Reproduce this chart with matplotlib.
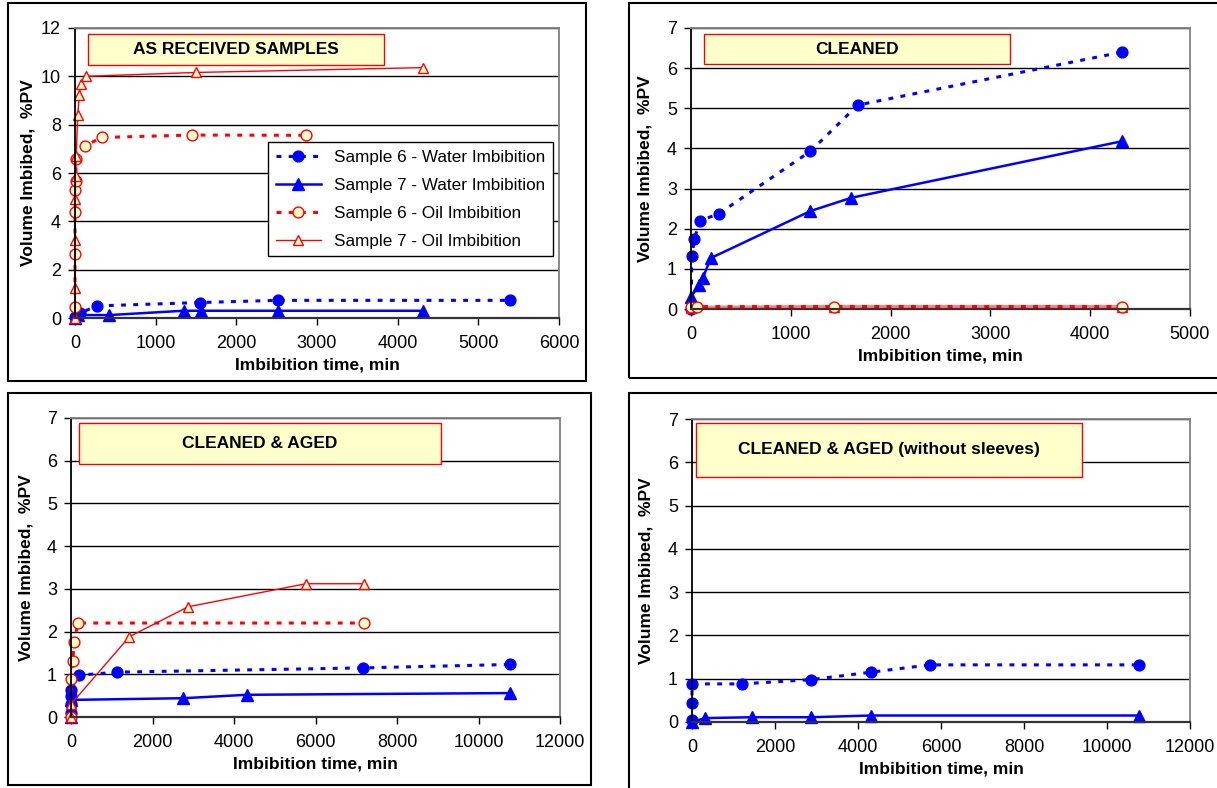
import matplotlib

matplotlib.use("Agg")
import matplotlib.pyplot as plt
from matplotlib.patches import Rectangle
from matplotlib.lines import Line2D

plt.rcParams["font.family"] = ["Liberation Sans", "DejaVu Sans"]

W, H = 1217, 788

# ---- as received samples ----
p1_s6w_x = [0, 62, 269, 1553, 2513, 5397]
p1_s6w_y = [0.04, 0.2, 0.5, 0.64, 0.73, 0.73]
p1_s7w_x = [0, 35, 418, 1349, 1558, 2513, 4313]
p1_s7w_y = [0.0, 0.12, 0.12, 0.3, 0.3, 0.3, 0.3]
p1_s6o_x = [0, 0, 0, 5, 8, 15, 124, 331, 1446, 2865]
p1_s6o_y = [0.47, 2.65, 4.4, 5.3, 5.68, 6.57, 7.13, 7.47, 7.57, 7.56]
p1_s7o_x = [0, 0, 0, 5, 8, 16, 33, 54, 70, 136, 1496, 4313]
p1_s7o_y = [0.0, 1.25, 3.23, 4.92, 5.89, 6.7, 8.4, 9.23, 9.68, 10.0, 10.16, 10.36]

# ---- cleaned ----
p2_s6w_x = [0, 10, 33, 90, 277, 1197, 1671, 4320]
p2_s6w_y = [0.0, 1.32, 1.74, 2.2, 2.37, 3.93, 5.08, 6.4]
p2_s7w_x = [0, 83, 116, 200, 1197, 1605, 4320]
p2_s7w_y = [0.3, 0.6, 0.76, 1.27, 2.44, 2.77, 4.18]
p2_s6o_x = [0, 62, 1437, 4320]
p2_s6o_y = [0.04, 0.06, 0.06, 0.06]
p2_s7o_x = [0, 1437, 4320]
p2_s7o_y = [0.03, 0.05, 0.05]

# ---- cleaned & aged ----
p3_s6w_x = [0, 0, 0, 0, 206, 1136, 7177, 10780]
p3_s6w_y = [0.1, 0.3, 0.48, 0.64, 0.98, 1.05, 1.15, 1.23]
p3_s7w_x = [0, 0, 2757, 4313, 10780]
p3_s7w_y = [0.0, 0.4, 0.44, 0.52, 0.56]
p3_s6o_x = [0, 0, 41, 82, 165, 7197]
p3_s6o_y = [0.0, 0.88, 1.32, 1.76, 2.2, 2.2]
p3_s7o_x = [0, 10, 1432, 2873, 5765, 7197]
p3_s7o_y = [0.0, 0.31, 1.88, 2.58, 3.12, 3.12]

# ---- cleaned & aged, no sleeves ----
p4_s6w_x = [0, 0, 0, 1202, 2873, 4310, 5728, 10780]
p4_s6w_y = [0.05, 0.45, 0.88, 0.88, 0.98, 1.15, 1.32, 1.32]
p4_s7w_x = [0, 310, 1437, 2873, 4310, 10780]
p4_s7w_y = [0.0, 0.09, 0.11, 0.11, 0.15, 0.15]

labels = [
    "Sample 6 - Water Imbibition",
    "Sample 7 - Water Imbibition",
    "Sample 6 - Oil Imbibition",
    "Sample 7 - Oil Imbibition",
]

BLUE = "#0000ff"
RED = "#ff0000"
PALE = "#ffffcc"
DOT = (0, (1.6, 2.4))

STYLES = {
    "s6w": dict(color=BLUE, lw=2.2, ls=DOT, marker="o", ms=7.8, mfc=BLUE, mec=BLUE),
    "s7w": dict(color=BLUE, lw=1.8, ls="-", marker="^", ms=8.2, mfc=BLUE, mec=BLUE),
    "s6o": dict(color=RED, lw=2.2, ls=DOT, marker="o", ms=7.8, mfc=PALE, mec=RED, mew=1),
    "s7o": dict(color=RED, lw=1.0, ls="-", marker="^", ms=7.8, mfc=PALE, mec=RED, mew=1),
}


def fig_rect(x0, y0, x1, y1):
    """pixel box (top-left origin) -> figure fraction [l, b, w, h]"""
    return [x0 / W, 1 - y1 / H, (x1 - x0) / W, (y1 - y0) / H]


def frame(fig, x0, y0, x1, y1):
    l, b, w, h = fig_rect(x0, y0, x1, y1)
    fig.patches.append(Rectangle((l, b), w, h, transform=fig.transFigure,
                                 fill=False, ec="black", lw=1.5))


def title_box(fig, x0, y0, x1, y1, text):
    l, b, w, h = fig_rect(x0, y0, x1, y1)
    fig.patches.append(Rectangle((l, b), w, h, transform=fig.transFigure,
                                 fc=PALE, ec=RED, lw=1, zorder=5))
    fig.text(l + w / 2, b + h / 2, text, ha="center", va="center",
             fontsize=12.5, fontweight="bold", zorder=6)


def setup(ax, xmax, xstep, ymax, ystep, ypad=4):
    ax.set_xlim(0, xmax)
    ax.set_ylim(0, ymax)
    ax.set_xticks(range(0, xmax + 1, xstep))
    ax.set_yticks(range(0, ymax + 1, ystep))
    ax.set_axisbelow(True)
    ax.yaxis.grid(True, color="black", lw=1)
    for side in ("top", "right"):
        ax.spines[side].set_color("#808080")
        ax.spines[side].set_linewidth(1.3)
    ax.spines["left"].set_linewidth(1.3)
    ax.spines["bottom"].set_linewidth(1.6)
    ax.spines["bottom"].set_color("#333333")
    ax.tick_params(direction="out", length=5, width=1, labelsize=13, pad=5)
    ax.tick_params(axis="x", pad=7)
    ax.set_xlabel("Imbibition time, min", fontsize=12.5, fontweight="bold", labelpad=4)
    ax.set_ylabel("Volume Imbibed,  %PV", fontsize=12.5, fontweight="bold", labelpad=ypad)


def series(ax, x, y, key, **extra):
    st = dict(STYLES[key])
    st.update(extra)
    ax.plot(x, y, clip_on=False, **st)


fig = plt.figure(figsize=(W / 100, H / 100), dpi=100)

frame(fig, 8, 3, 586, 381)
frame(fig, 629, 3, 1220, 378)
frame(fig, 8, 393, 591, 785)
frame(fig, 629, 393, 1220, 792)

ax1 = fig.add_axes(fig_rect(75, 28, 559, 318))
setup(ax1, 6000, 1000, 12, 2)
series(ax1, p1_s6w_x, p1_s6w_y, "s6w")
series(ax1, p1_s7w_x, p1_s7w_y, "s7w")
series(ax1, p1_s6o_x, p1_s6o_y, "s6o")
series(ax1, p1_s7o_x, p1_s7o_y, "s7o")
handles = [Line2D([], [], **STYLES[k]) for k in ("s6w", "s7w", "s6o", "s7o")]
leg = ax1.legend(handles, labels, loc="upper right", bbox_to_anchor=(0.988, 0.607),
                 borderaxespad=0, fontsize=12.3, frameon=True, fancybox=False,
                 edgecolor="black", framealpha=1, handlelength=2.6,
                 labelspacing=0.76, borderpad=0.45, numpoints=1)
leg.get_frame().set_linewidth(1)
title_box(fig, 88, 34, 384, 65, "AS RECEIVED SAMPLES")

ax2 = fig.add_axes(fig_rect(691, 28, 1190, 309))
setup(ax2, 5000, 1000, 7, 1, ypad=10.5)
series(ax2, p2_s6w_x, p2_s6w_y, "s6w")
series(ax2, p2_s7w_x, p2_s7w_y, "s7w")
series(ax2, p2_s7o_x, p2_s7o_y, "s7o", color="#ff8080", lw=3)
series(ax2, p2_s6o_x, p2_s6o_y, "s6o")
title_box(fig, 704, 34, 1010, 64, "CLEANED")

ax3 = fig.add_axes(fig_rect(71, 418, 560, 717))
setup(ax3, 12000, 2000, 7, 1, ypad=10)
series(ax3, p3_s6w_x, p3_s6w_y, "s6w")
series(ax3, p3_s7w_x, p3_s7w_y, "s7w")
series(ax3, p3_s6o_x, p3_s6o_y, "s6o")
series(ax3, p3_s7o_x, p3_s7o_y, "s7o")
title_box(fig, 79, 423, 441, 464, "CLEANED & AGED")

ax4 = fig.add_axes(fig_rect(692, 419, 1190, 722))
setup(ax4, 12000, 2000, 7, 1, ypad=10.5)
series(ax4, p4_s6w_x, p4_s6w_y, "s6w")
series(ax4, p4_s7w_x, p4_s7w_y, "s7w")
title_box(fig, 696, 423, 1082, 477, "CLEANED & AGED (without sleeves)")

fig.savefig("out.png", dpi=100)
